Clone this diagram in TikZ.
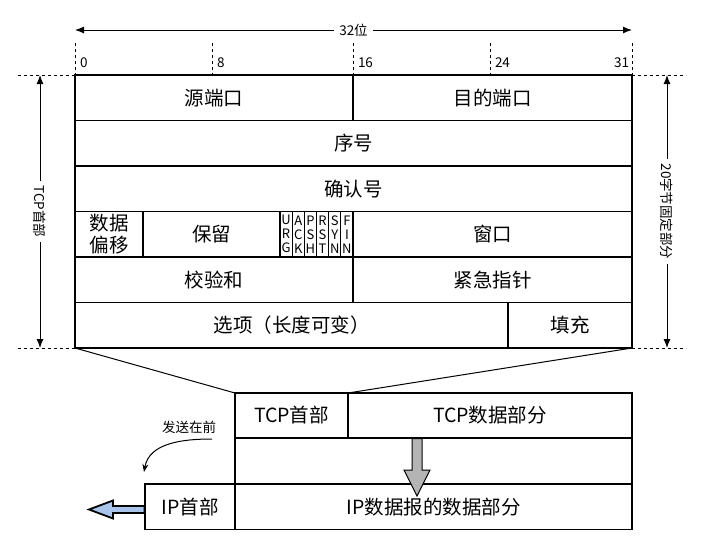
\documentclass[tikz,border=0pt]{standalone}
\usepackage{fontspec}
\setmainfont{Noto Sans CJK SC}
\usetikzlibrary{arrows.meta}
\usetikzlibrary{positioning}
\definecolor{sendblue}{HTML}{A9C4EB}
\definecolor{pushgray}{HTML}{B4B4B4}

\begin{document}
\begin{tikzpicture}[x=1pt, y=-1pt,
every node/.style={inner sep=0, outer sep=0},
field/.style={draw, line width=1.2pt, anchor=north west, minimum height=45.5pt, font=\fontsize{19.5}{21.5}\selectfont},
flag/.style={field, minimum width=12.17pt, align=center, font=\fontsize{13}{14}\selectfont},
small/.style={font=\fontsize{13.5}{15}\selectfont},
guide/.style={dashed, line width=0.8pt},
dim/.style={{Latex[length=9pt,width=7pt]}-{Latex[length=9pt,width=7pt]}, line width=1pt}
]
\useasboundingbox (0,0) rectangle (709,554);
% TCP header fields
\node[field, minimum width=278pt] (src) at (75,75) {源端口};
\node[field, minimum width=279pt] (dst) at (353,75) {目的端口};
\node[field, minimum width=557pt] (seq) at (75,120.5) {序号};
\node[field, minimum width=557pt] (ack) at (75,166) {确认号};
\node[field, minimum width=68pt, align=center] (off) at (75,211.5) {数据\\偏移};
\node[field, minimum width=137pt] (rsv) at (143,211.5) {保留};
\foreach \a/\b/\c [count=\i from 0] in {U/R/G, A/C/K, P/S/H, R/S/T, S/Y/N, F/I/N}
  \node[flag] (flag\i) at ({280+\i*12.17},211.5) {\a\\\b\\\c};
\node[field, minimum width=279pt] (win) at (353,211.5) {窗口};
\node[field, minimum width=278pt] (chk) at (75,257) {校验和};
\node[field, minimum width=279pt] (urg) at (353,257) {紧急指针};
\node[field, minimum width=433pt] (opt) at (75,302.5) {选项（长度可变）};
\node[field, minimum width=124pt] (pad) at (508,302.5) {填充};
% bit ruler
\coordinate (wl) at (75,30);
\coordinate (wr) at (632,30);
\draw[dim] (wl) -- node[fill=white, inner xsep=5pt, small] (width) {32位} (wr);
\foreach \x/\b in {75/0, 212/8, 353/16, 490/24} {
  \draw[guide] (\x,43) -- (\x,75);
  \node[small, anchor=west] (bit\b) at (\x+5,63) {\b};
}
\draw[guide] (632,43) -- (632,75);
\node[small, anchor=east] (bit31) at (629,63) {31};
% side guides
\draw[guide] (18,75) -- (src.north west);
\draw[guide] (dst.north east) -- (686,75);
\draw[guide] (18,348) -- (opt.south west);
\draw[guide] (pad.south east) -- (686,348);
\coordinate (lt) at (40,75);
\coordinate (lb) at (40,348);
\coordinate (rt) at (667,75);
\coordinate (rb) at (667,348);
\draw[dim] (lt) -- node[fill=white, rotate=-90, inner xsep=5pt, small] (hdrlen) {TCP首部} (lb);
\draw[dim] (rt) -- node[fill=white, rotate=-90, inner xsep=5pt, small] (fixlen) {20字节固定部分} (rb);
% encapsulation
\node[field, minimum width=113pt, minimum height=45pt] (tcphdr) at (235,393) {TCP首部};
\node[field, minimum width=284pt, minimum height=45pt] (tcpdata) at (348,393) {TCP数据部分};
\node[field, minimum width=397pt] (gap) at (235,438.5) {};
\node[field, minimum width=90pt] (iphdr) at (145,484) {IP首部};
\node[field, minimum width=397pt] (ipdata) at (235,484) {IP数据报的数据部分};
\draw[line width=1pt] (opt.south west) -- (tcphdr.north west);
\draw[line width=1pt] (pad.south east) -- (tcphdr.north east);
% block arrows
\filldraw[fill=pushgray, draw=black, line width=1pt]
  (412,438.5) -- (422,438.5) -- (422,470) -- (430,470) -- (417,496) -- (404,470) -- (412,470) -- cycle;
\filldraw[fill=sendblue, draw=black, line width=1.8pt]
  (144.5,506) -- (113,506) -- (113,500.5) -- (89,509.5) -- (113,518.5) -- (113,513) -- (144.5,513) -- cycle;
\node[small] (sendfirst) at (189,427) {发送在前};
\coordinate (sendfrom) at (212,439);
\coordinate (sendto) at (144,472);
\draw[-{Stealth[length=8pt,width=6pt]}, line width=1pt] (sendfrom) to[out=180, in=80] (sendto);
\end{tikzpicture}
\end{document}
